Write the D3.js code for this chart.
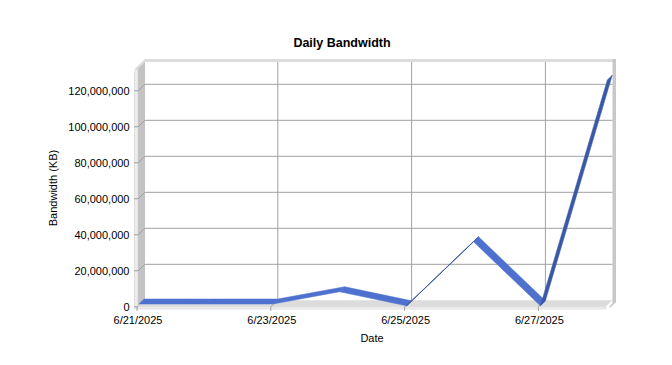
<!DOCTYPE html>
<html>
<head>
<meta charset="utf-8">
<script src="https://cdn.jsdelivr.net/npm/d3@7"></script>
<style>
  html, body { margin: 0; padding: 0; background: #ffffff; }
  svg { display: block; }
  text { font-family: "Liberation Sans", Arial, sans-serif; fill: #000; }
</style>
</head>
<body>
<svg id="chart" width="672" height="365"></svg>
<script>
// ---- data ----
const dates = ["6/21/2025", "6/22/2025", "6/23/2025", "6/24/2025", "6/25/2025", "6/26/2025", "6/27/2025", "6/28/2025"];
const bandwidth = [1000000, 1000000, 1000000, 7800000, 0, 35600000, 0, 125400000];
const yTicks = [0, 20000000, 40000000, 60000000, 80000000, 100000000, 120000000];
const xLabelDates = ["6/21/2025", "6/23/2025", "6/25/2025", "6/27/2025"];
const xGridDates = ["6/23/2025", "6/25/2025", "6/27/2025"];
const titleText = "Daily Bandwidth";
const xTitle = "Date";
const yTitle = "Bandwidth (KB)";

// ---- layout ----
const svg = d3.select("#chart");
const parse = d3.timeParse("%m/%d/%Y");
const depth = { dx: -7, dy: 6.5 };             // back plane -> front plane
const backLeft = 145, backRight = 612.5, backTop = 62, backBottom = 300.3;

const x = d3.scaleTime()
  .domain([parse(dates[0]), parse(dates[dates.length - 1])])
  .range([144, 612.3]);
const y = d3.scaleLinear().domain([0, 120000000]).range([backBottom, 84.3]);

const fmt = d3.format(",");
const line = d3.line();

// ---- walls ----
svg.append("path")
  .attr("d", line([[backLeft - 11, backTop + 7.5], [backLeft, backTop - 3], [backRight + 3.5, backTop - 3], [backRight + 3.5, backTop], [backLeft, backTop], [backLeft + depth.dx, backTop - depth.dy + 14]]) + "Z")
  .attr("fill", "#dcdcdc");
svg.append("rect")
  .attr("x", backLeft).attr("y", backTop)
  .attr("width", backRight - backLeft).attr("height", backBottom - backTop)
  .attr("fill", "#ffffff");
svg.append("path")
  .attr("d", line([[backLeft, backTop], [backLeft, backBottom], [backLeft + depth.dx, backBottom + depth.dy], [backLeft + depth.dx, backTop + depth.dy]]) + "Z")
  .attr("fill", "#c3c3c3");
svg.append("path")
  .attr("d", line([[backLeft + depth.dx - 3.5, backTop + depth.dy + 3], [backLeft + depth.dx, backTop + depth.dy - 0.5], [backLeft + depth.dx, backBottom + depth.dy + 2], [backLeft + depth.dx - 3.5, backBottom + depth.dy + 2]]) + "Z")
  .attr("fill", "#ececec").attr("stroke", "#d0d0d0").attr("stroke-width", 0.6);
svg.append("path")
  .attr("d", line([[backRight, backTop - 3], [backRight + 3.5, backTop - 3], [backRight + 3.5, backBottom + 2], [backRight - 3, backBottom + 8], [backRight - 3, backBottom + 6], [backRight, backBottom + 3]]) + "Z")
  .attr("fill", "#c8c8c8");
svg.append("path")
  .attr("d", line([[backLeft, backBottom], [backRight, backBottom], [backRight + depth.dx, backBottom + depth.dy], [backLeft + depth.dx, backBottom + depth.dy]]) + "Z")
  .attr("fill", "#dcdcdc");
svg.append("path")
  .attr("d", line([[backLeft + depth.dx, backBottom + depth.dy], [backRight + depth.dx, backBottom + depth.dy], [backRight + depth.dx, backBottom + depth.dy + 2.2], [backLeft + depth.dx, backBottom + depth.dy + 2.2]]) + "Z")
  .attr("fill", "#f2f2f2").attr("stroke", "#cfcfcf").attr("stroke-width", 0.6);

// ---- grid ----
const gridColor = "#a0a0a0";
const gY = svg.append("g");
yTicks.forEach(v => {
  const yy = y(v);
  if (v !== 0) {
    gY.append("line").attr("x1", backLeft).attr("x2", backRight).attr("y1", yy).attr("y2", yy)
      .attr("stroke", gridColor).attr("stroke-width", 1);
    gY.append("line").attr("x1", backLeft).attr("y1", yy).attr("x2", backLeft + depth.dx).attr("y2", yy + depth.dy)
      .attr("stroke", gridColor).attr("stroke-width", 1);
  }
  gY.append("line").attr("x1", backLeft + depth.dx).attr("x2", backLeft + depth.dx - 4)
    .attr("y1", yy + depth.dy).attr("y2", yy + depth.dy)
    .attr("stroke", gridColor).attr("stroke-width", 1);
  gY.append("text")
    .attr("x", 129.5).attr("y", yy + depth.dy + 4)
    .attr("text-anchor", "end").attr("font-size", "11px")
    .text(fmt(v));
});

const gX = svg.append("g");
xGridDates.forEach(d => {
  const xx = x(parse(d));
  gX.append("line").attr("x1", xx).attr("x2", xx).attr("y1", backTop).attr("y2", backBottom)
    .attr("stroke", gridColor).attr("stroke-width", 1);
  gX.append("line").attr("x1", xx).attr("y1", backBottom).attr("x2", xx + depth.dx).attr("y2", backBottom + depth.dy)
    .attr("stroke", gridColor).attr("stroke-width", 1);
});
xLabelDates.forEach(d => {
  const xx = x(parse(d)) + depth.dx;
  gX.append("line").attr("x1", xx).attr("x2", xx).attr("y1", backBottom + depth.dy).attr("y2", backBottom + depth.dy + 4)
    .attr("stroke", gridColor).attr("stroke-width", 1);
  gX.append("text")
    .attr("x", xx + 1).attr("y", backBottom + depth.dy + 17.5)
    .attr("text-anchor", "middle").attr("font-size", "11px")
    .text(d);
});

// ---- 3D ribbon ----
const backOff = [0, 0.5], frontOff = [-5, 5.5];
const light = "#4e71cf", dark = "#3b58a6";
const pts = dates.map((d, i) => [x(parse(d)), y(bandwidth[i])]);
const gR = svg.append("g");
for (let i = 0; i < pts.length - 1; i++) {
  const p1 = pts[i], p2 = pts[i + 1];
  const b1 = [p1[0] + backOff[0], p1[1] + backOff[1]];
  const b2 = [p2[0] + backOff[0], p2[1] + backOff[1]];
  const f1 = [p1[0] + frontOff[0], p1[1] + frontOff[1]];
  const f2 = [p2[0] + frontOff[0], p2[1] + frontOff[1]];
  const dvx = frontOff[0] - backOff[0], dvy = frontOff[1] - backOff[1];
  const sx = b2[0] - b1[0], sy = b2[1] - b1[1];
  const cross = sx * dvy - sy * dvx;
  const width = Math.abs(cross) / Math.hypot(sx, sy);
  const col = cross > 0 ? light : dark;
  gR.append("path")
    .attr("d", line([b1, b2, f2, f1]) + "Z")
    .attr("fill", col)
    .attr("stroke", width < 1.5 ? dark : col)
    .attr("stroke-width", width < 1.5 ? 1 : 0.5)
    .attr("stroke-linejoin", "round");
}

// ---- titles ----
svg.append("text").attr("x", 342).attr("y", 47)
  .attr("text-anchor", "middle").attr("font-size", "12.5px").attr("font-weight", "bold")
  .text(titleText);
svg.append("text").attr("x", 372).attr("y", 342)
  .attr("text-anchor", "middle").attr("font-size", "11px")
  .text(xTitle);
svg.append("text")
  .attr("transform", "translate(57,188) rotate(-90)")
  .attr("text-anchor", "middle").attr("font-size", "11px")
  .text(yTitle);
</script>
</body>
</html>
